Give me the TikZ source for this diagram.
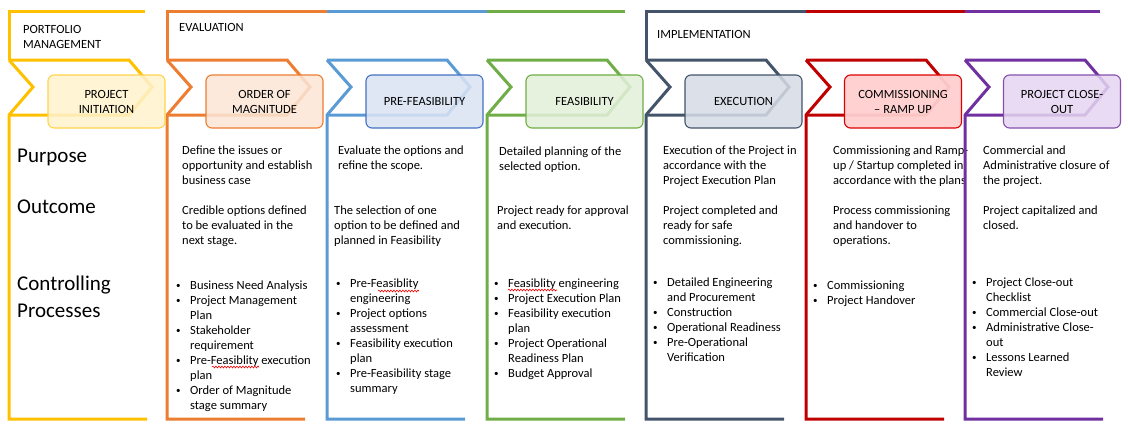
\documentclass[tikz,border=0pt]{standalone}
\usepackage{fontspec}
\setmainfont{Carlito}
\usepackage{xcolor}
\usepackage{tikz}
\usetikzlibrary{decorations.pathmorphing}

\definecolor{pmyellow}{HTML}{FFC000}
\definecolor{evorange}{HTML}{ED7D31}
\definecolor{pfblue}{HTML}{5B9BD5}
\definecolor{fsgreen}{HTML}{70AD47}
\definecolor{exslate}{HTML}{44546A}
\definecolor{cmred}{HTML}{C00000}
\definecolor{copurple}{HTML}{7030A0}
\definecolor{pmfill}{HTML}{FFF2CC}
\definecolor{evfill}{HTML}{FBE5D6}
\definecolor{pffill}{HTML}{DAE3F3}
\definecolor{pfedge}{HTML}{4472C4}
\definecolor{fsfill}{HTML}{E2F0D9}
\definecolor{exfill}{HTML}{D6DCE5}
\definecolor{cmfill}{HTML}{FFCFCF}
\definecolor{cmedge}{HTML}{E00000}
\definecolor{cofill}{HTML}{E5D5F1}

\newcommand{\bodyfont}{\fontsize{12.5}{15}\selectfont}
\newcommand{\rowfont}{\fontsize{21}{27}\selectfont}
\newcommand{\bul}{\makebox[14pt][l]{\raisebox{0.8pt}{\fontsize{9}{9}\selectfont\textbullet}}}
\newcommand{\cont}{\hspace*{14pt}}

\tikzset{
  phase/.style={draw=#1, line width=3pt},
  stagebox/.style 2 args={draw=#1, fill=#2, fill opacity=0.86, text opacity=1,
    rounded corners=6pt, line width=1.1pt, minimum width=117pt, minimum height=53pt,
    align=center, font=\bodyfont, inner sep=2pt},
  body/.style={font=\bodyfont, align=left, anchor=north west, inner sep=0pt},
  rowlabel/.style={font=\rowfont, align=left, anchor=north west, inner sep=0pt},
  spellwave/.style={draw=red, line width=0.6pt,
    decorate, decoration={snake, segment length=3pt, amplitude=0.9pt}}
}

\begin{document}
\begin{tikzpicture}[x=1pt, y=-1pt]
\useasboundingbox (0,0) rectangle (1128,437);

\node[body] (pmlabel) at (23,22.5) {\strut PORTFOLIO\\MANAGEMENT};
\node[body] (evlabel) at (179,20.5) {\strut EVALUATION};
\node[body] (imlabel) at (657,27.5) {\strut IMPLEMENTATION};

\node[rowlabel] (purpose) at (17,143.1) {\strut Purpose};
\node[rowlabel] (outcome) at (17,194.1) {\strut Outcome};
\node[rowlabel] (control) at (17,271.1) {\strut Controlling\\Processes};

\node[body] (evpurpose) at (182,143.5) {\strut Define the issues or\\opportunity and establish\\business case};
\node[body] (evoutcome) at (182,203.5) {\strut Credible options defined\\to be evaluated in the\\next stage.};
\node[body] (evcontrol) at (176,278.5) {\strut\bul Business Need Analysis\\\bul Project Management\\\cont Plan\\\bul Stakeholder\\\cont requirement\\\bul Pre-Feasiblity execution\\\cont plan\\\bul Order of Magnitude\\\cont stage summary};

\node[body] (pfpurpose) at (338,143.5) {\strut Evaluate the options and\\refine the scope.};
\node[body] (pfoutcome) at (334,203.5) {\strut The selection of one\\option to be defined and\\planned in Feasibility};
\node[body] (pfcontrol) at (336,276.5) {\strut\bul Pre-Feasiblity\\\cont engineering\\\bul Project options\\\cont assessment\\\bul Feasibility execution\\\cont plan\\\bul Pre-Feasibility stage\\\cont summary};

\node[body] (fspurpose) at (499,144.5) {\strut Detailed planning of the\\selected option.};
\node[body] (fsoutcome) at (497,203.5) {\strut Project ready for approval\\and execution.};
\node[body] (fscontrol) at (494,276.5) {\strut\bul Feasiblity engineering\\\bul Project Execution Plan\\\bul Feasibility execution\\\cont plan\\\bul Project Operational\\\cont Readiness Plan\\\bul Budget Approval};

\node[body] (expurpose) at (663,143.5) {\strut Execution of the Project in\\accordance with the\\Project Execution Plan};
\node[body] (exoutcome) at (663,203.5) {\strut Project completed and\\ready for safe\\commissioning.};
\node[body] (excontrol) at (653,275.5) {\strut\bul Detailed Engineering\\\cont and Procurement\\\bul Construction\\\bul Operational Readiness\\\bul Pre-Operational\\\cont Verification};

\begin{scope}
  \clip (806,130) rectangle (968,200);
  \node[body] (cmpurpose) at (833,143.5) {\strut Commissioning and Ramp-\\up / Startup completed in\\accordance with the plans};
\end{scope}
\node[body] (cmoutcome) at (833,203.5) {\strut Process commissioning\\and handover to\\operations.};
\node[body] (cmcontrol) at (813,278.5) {\strut\bul Commissioning\\\bul Project Handover};

\node[body] (copurpose) at (983,143.5) {\strut Commercial and\\Administrative closure of\\the project.};
\node[body] (cooutcome) at (983,203.5) {\strut Project capitalized and\\closed.};
\node[body] (cocontrol) at (972,275.5) {\strut\bul Project Close-out\\\cont Checklist\\\bul Commercial Close-out\\\bul Administrative Close-\\\cont out\\\bul Lessons Learned\\\cont Review};

\draw[spellwave] (212,367) -- (259,367);
\draw[spellwave] (378,291) -- (419,291);
\draw[spellwave] (508,290) -- (557,290);

\foreach \x/\c in {9/pmyellow,167/evorange,327/pfblue,487/fsgreen,646/exslate,806/cmred,965/copurple}{
  \draw[phase=\c] (\x,60) -- ++(120,0) -- ++(23,27) -- ++(-23,28) -- (\x,115);
  \draw[phase=\c] (\x,60) -- ++(24,27) -- (\x,115) -- (\x,419) -- ++(138,0);
}
\draw[phase=pmyellow] (9,60) -- (9,11) -- (145,11);
\draw[phase=evorange] (167,60) -- (167,11) -- (327,11);
\draw[phase=pfblue] (327,11) -- (487,11);
\draw[phase=fsgreen] (487,11) -- (625,11);
\draw[phase=exslate] (646,60) -- (646,11) -- (806,11);
\draw[phase=cmred] (806,11) -- (965,11);
\draw[phase=copurple] (965,11) -- (1100,11);

\node[stagebox={pmyellow!70}{pmfill}] (initiation) at (106.5,101.5) {PROJECT\\INITIATION};
\node[stagebox={evorange}{evfill}] (magnitude) at (264.5,101.5) {ORDER OF\\MAGNITUDE};
\node[stagebox={pfedge}{pffill}] (prefeas) at (424.5,101.5) {PRE-FEASIBILITY};
\node[stagebox={fsgreen}{fsfill}] (feas) at (584.5,101.5) {FEASIBILITY};
\node[stagebox={exslate}{exfill}] (execution) at (743.5,101.5) {EXECUTION};
\node[stagebox={cmedge}{cmfill}, fill opacity=0.95] (rampup) at (903,101.5) {COMMISSIONING\\-- RAMP UP};
\node[stagebox={copurple!85}{cofill}] (closeout) at (1062,101.5) {PROJECT CLOSE-\\OUT};
\end{tikzpicture}
\end{document}
